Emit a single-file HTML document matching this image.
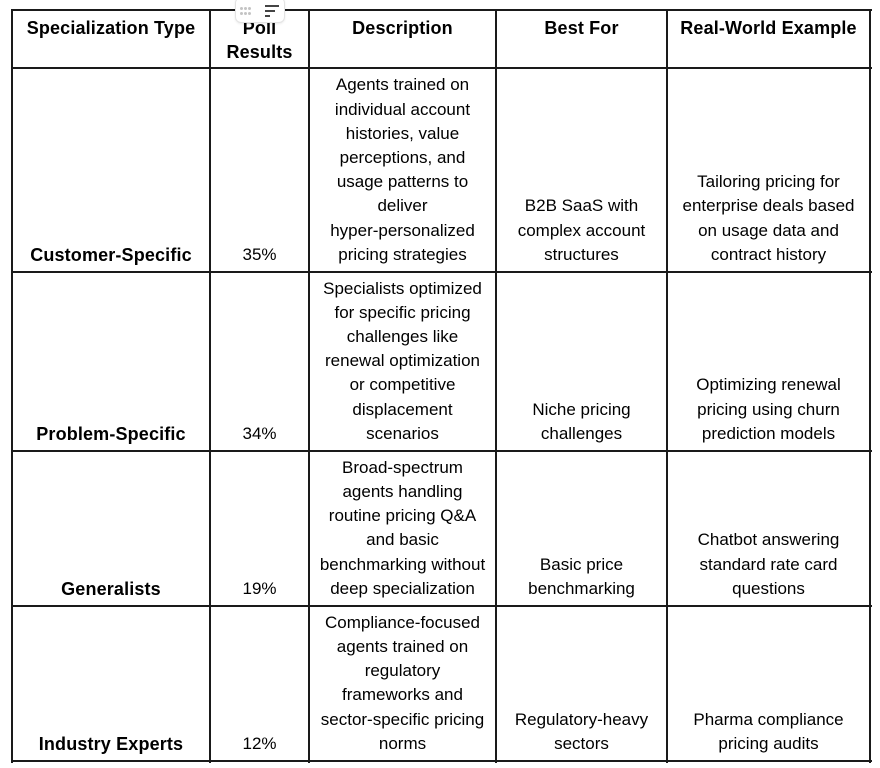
<!DOCTYPE html>
<html>
<head>
<meta charset="utf-8">
<style>
  html, body { margin:0; padding:0; background:#fff; }
  body { width:880px; height:768px; position:relative; overflow:hidden;
         font-family:"Liberation Sans", Arial, sans-serif; font-size:17px; color:#000; }
  .v { position:absolute; top:9px; height:754px; width:2px; background:#1a1a1a; }
  .h { position:absolute; left:11px; width:861px; height:2px; background:#1a1a1a; }
  .c { position:absolute; box-sizing:border-box; display:flex; flex-direction:column;
       justify-content:flex-end; text-align:center; line-height:24.2px; padding-bottom:4px;
       white-space:nowrap; }
  .hd { justify-content:flex-start; padding-top:5px; padding-bottom:0; font-weight:bold; font-size:18px; letter-spacing:0.15px; }
  .b { font-weight:bold; font-size:18px; letter-spacing:0.15px; }
  .widget { position:absolute; left:235px; top:-3px; width:48px; height:24px; background:#fff;
            border:1px solid #e3e3e3; border-radius:6px; box-shadow:0 1px 2px rgba(0,0,0,0.08); }
  .dot { position:absolute; width:3px; height:3px; border-radius:50%; background:#c4c4c4; }
  .ln { position:absolute; height:2px; background:#444; }
</style>
</head>
<body>

<!-- vertical lines -->
<div class="v" style="left:11px"></div>
<div class="v" style="left:209px"></div>
<div class="v" style="left:308px"></div>
<div class="v" style="left:495px"></div>
<div class="v" style="left:666px"></div>
<div class="v" style="left:869px"></div>
<!-- horizontal lines -->
<div class="h" style="top:9px"></div>
<div class="h" style="top:67px"></div>
<div class="h" style="top:271px"></div>
<div class="h" style="top:450px"></div>
<div class="h" style="top:605px"></div>
<div class="h" style="top:760px"></div>

<!-- header -->
<div class="c hd" style="left:13px;width:196px;top:11px;height:56px;">Specialization Type</div>
<div class="c hd" style="left:211px;width:97px;top:11px;height:56px;">Poll<br>Results</div>
<div class="c hd" style="left:310px;width:185px;top:11px;height:56px;">Description</div>
<div class="c hd" style="left:497px;width:169px;top:11px;height:56px;">Best For</div>
<div class="c hd" style="left:668px;width:201px;top:11px;height:56px;">Real-World Example</div>

<!-- row 1 -->
<div class="c b" style="left:13px;width:196px;top:69px;height:202px;">Customer-Specific</div>
<div class="c" style="left:211px;width:97px;top:69px;height:202px;">35%</div>
<div class="c" style="left:310px;width:185px;top:69px;height:202px;">Agents trained on<br>individual account<br>histories, value<br>perceptions, and<br>usage patterns to<br>deliver<br>hyper-personalized<br>pricing strategies</div>
<div class="c" style="left:497px;width:169px;top:69px;height:202px;">B2B SaaS with<br>complex account<br>structures</div>
<div class="c" style="left:668px;width:201px;top:69px;height:202px;">Tailoring pricing for<br>enterprise deals based<br>on usage data and<br>contract history</div>

<!-- row 2 -->
<div class="c b" style="left:13px;width:196px;top:273px;height:177px;">Problem-Specific</div>
<div class="c" style="left:211px;width:97px;top:273px;height:177px;">34%</div>
<div class="c" style="left:310px;width:185px;top:273px;height:177px;">Specialists optimized<br>for specific pricing<br>challenges like<br>renewal optimization<br>or competitive<br>displacement<br>scenarios</div>
<div class="c" style="left:497px;width:169px;top:273px;height:177px;">Niche pricing<br>challenges</div>
<div class="c" style="left:668px;width:201px;top:273px;height:177px;">Optimizing renewal<br>pricing using churn<br>prediction models</div>

<!-- row 3 -->
<div class="c b" style="left:13px;width:196px;top:452px;height:153px;">Generalists</div>
<div class="c" style="left:211px;width:97px;top:452px;height:153px;">19%</div>
<div class="c" style="left:310px;width:185px;top:452px;height:153px;">Broad-spectrum<br>agents handling<br>routine pricing Q&amp;A<br>and basic<br>benchmarking without<br>deep specialization</div>
<div class="c" style="left:497px;width:169px;top:452px;height:153px;">Basic price<br>benchmarking</div>
<div class="c" style="left:668px;width:201px;top:452px;height:153px;">Chatbot answering<br>standard rate card<br>questions</div>

<!-- row 4 -->
<div class="c b" style="left:13px;width:196px;top:607px;height:153px;">Industry Experts</div>
<div class="c" style="left:211px;width:97px;top:607px;height:153px;">12%</div>
<div class="c" style="left:310px;width:185px;top:607px;height:153px;">Compliance-focused<br>agents trained on<br>regulatory<br>frameworks and<br>sector-specific pricing<br>norms</div>
<div class="c" style="left:497px;width:169px;top:607px;height:153px;">Regulatory-heavy<br>sectors</div>
<div class="c" style="left:668px;width:201px;top:607px;height:153px;">Pharma compliance<br>pricing audits</div>

<!-- toolbar widget -->
<div class="widget">
  <div class="dot" style="left:4px;top:9px"></div>
  <div class="dot" style="left:8px;top:9px"></div>
  <div class="dot" style="left:12px;top:9px"></div>
  <div class="dot" style="left:4px;top:14px"></div>
  <div class="dot" style="left:8px;top:14px"></div>
  <div class="dot" style="left:12px;top:14px"></div>
  <div class="ln" style="left:29px;top:7px;width:14px"></div>
  <div class="ln" style="left:29px;top:12px;width:10px"></div>
  <div class="ln" style="left:29px;top:17px;width:5px"></div>
</div>

</body>
</html>
